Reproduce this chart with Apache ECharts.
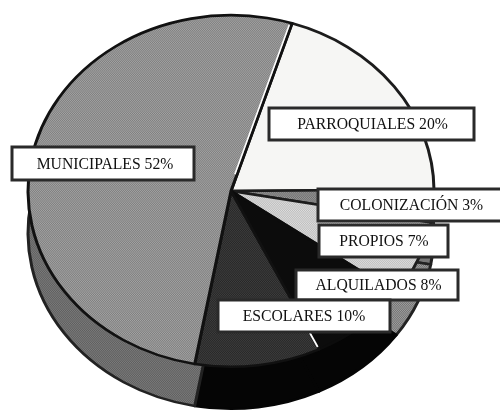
<!DOCTYPE html>
<html><head><meta charset="utf-8">
<style>html,body{margin:0;padding:0;background:#fff;overflow:hidden}#c{width:500px;height:413px}</style>
<script src="https://cdn.jsdelivr.net/npm/echarts@6/dist/echarts.min.js"></script>
</head><body><div id="c"></div>
<script>
const names = ['PARROQUIALES','COLONIZACIÓN','PROPIOS','ALQUILADOS','ESCOLARES','MUNICIPALES'];
const values = [20,3,7,8,10,52];
const labelBoxes = [[269,108,205,32],[318,189,190,32],[319,225,129,32],[296,270,162,30],[218,300,172,32],[12,147,182,33]];
const labelCentres = [372.5,411.5,384,378.5,304,105];

function dither(c1,c2){
  const k=document.createElement('canvas');k.width=k.height=2;
  const g=k.getContext('2d');g.fillStyle=c1;g.fillRect(0,0,2,2);g.fillStyle=c2;g.fillRect(0,0,1,1);g.fillRect(1,1,1,1);
  return {image:k,repeat:'repeat'};
}
const topColors = ['#f6f6f4',dither('#6e6e6e','#969696'),dither('#bdbdbd','#dedede'),'#0c0c0c',dither('#262626','#3e3e3e'),dither('#7e7e7e','#a4a4a4')];
const sideColors = ['#f6f6f4','#777777',dither('#707070','#a0a0a0'),'#050505','#050505',dither('#5e5e5e','#7c7c7c')];
const sideBorders = ['#222','#222','#222','#050505','#050505','#222'];
const topBorders = ['#1c1c1c','#1c1c1c','#1c1c1c','#0c0c0c','#111','#111'];
const cx=231, cy=191, r=203, squash=0.866, drop=42, startAngle=72.5;
const topData=names.map((n,i)=>({name:n,value:values[i],itemStyle:{color:topColors[i],borderColor:topBorders[i]}}));
const sideData=names.map((n,i)=>({name:n,value:values[i],itemStyle:{color:sideColors[i],borderColor:sideBorders[i]}}));
const base={type:'pie',radius:[0,r],startAngle,clockwise:true,animation:false,silent:true,label:{show:false},labelLine:{show:false},sort:null};

// Pale slivers that run along two slice boundaries, located from the data.
const total=values.reduce((a,b)=>a+b,0);
function rim(sliceEnd,f,dx){
  const done=values.slice(0,sliceEnd).reduce((a,b)=>a+b,0);
  const a=(startAngle-done/total*360)*Math.PI/180;
  return [cx+dx+Math.cos(a)*r*f,cy-Math.sin(a)*r*squash*f];
}
const slivers=[[6,0.10,0.99,-2.2,1.6],[4,0.80,0.985,0,1.8]];
const graphic=slivers.map(s=>({type:'line',z:5,shape:{x1:rim(s[0],s[1],s[3])[0],y1:rim(s[0],s[1],s[3])[1],x2:rim(s[0],s[2],s[3])[0],y2:rim(s[0],s[2],s[3])[1]},style:{stroke:'#fff',lineWidth:s[4]}}));
names.forEach((n,i)=>{
  const b=labelBoxes[i];
  graphic.push({type:'rect',shape:{x:b[0],y:b[1],width:b[2],height:b[3]},style:{fill:'#fff',stroke:'#2a2a2a',lineWidth:3},z:10});
  graphic.push({type:'text',x:labelCentres[i],y:b[1]+b[3]/2+1,style:{text:n+' '+values[i]+'%',fill:'#111',font:'15.7px "Liberation Serif"',align:'center',verticalAlign:'middle'},z:11});
});
const chart=echarts.init(document.getElementById('c'),null,{renderer:'canvas'});
chart.setOption({backgroundColor:'#fff',animation:false,graphic,series:[
  Object.assign({},base,{name:'lado',center:[cx,cy+drop],data:sideData,z:1,itemStyle:{borderWidth:3}}),
  Object.assign({},base,{name:'tierras',center:[cx,cy],data:topData,z:2,itemStyle:{borderWidth:3}})
]});
// The disc is seen in perspective: flatten the pie's sectors into ellipses.
chart.getZr().storage.getDisplayList(true).forEach(el=>{
  if(el.type==='sector'){el.originX=el.shape.cx;el.originY=el.shape.cy;el.scaleY=squash;el.markRedraw();}
});
chart.getZr().refreshImmediately();
</script></body></html>
